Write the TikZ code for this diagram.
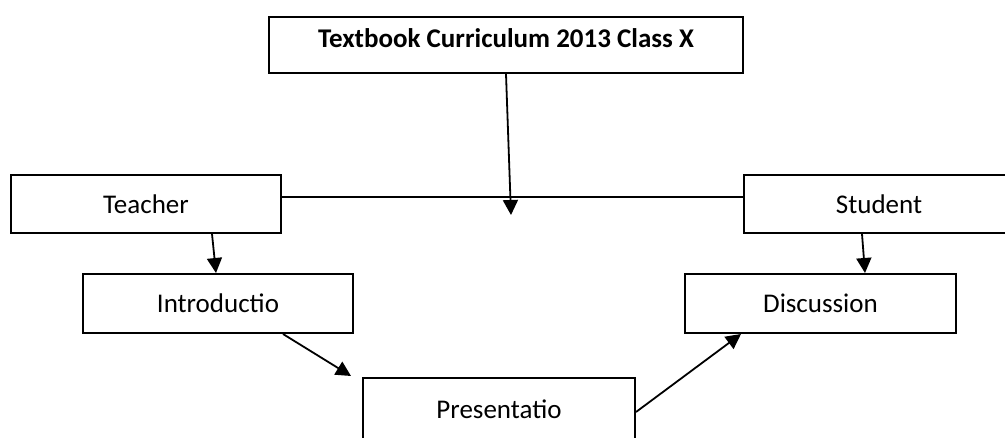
\documentclass[tikz,border=0pt]{standalone}
\usepackage{fontspec}
\setmainfont{Carlito}
\usetikzlibrary{arrows.meta}
\tikzset{
  box/.style={draw=black, line width=2pt, rectangle, inner sep=0pt, fill=white},
  conn/.style={draw=black, line width=1.8pt},
  arr/.style={conn, -{Triangle[length=15pt,width=15pt]}},
}
\begin{document}
\begin{tikzpicture}[x=1pt,y=-1pt, font=\fontsize{27}{31}\selectfont]
\useasboundingbox[fill=white] (0,0) rectangle (1005,438);
\node[box, minimum width=474pt, minimum height=56pt,
      label={[yshift=7pt]center:\textbf{Textbook Curriculum 2013 Class X}}] (title) at (506,45) {};
\node[box, minimum width=270pt, minimum height=58pt] (teacher) at (146,204) {Teacher};
\node[box, minimum width=270pt, minimum height=58pt] (student) at (879,204) {Student};
\node[box, minimum width=270pt, minimum height=59pt] (intro) at (218,303.5) {Introductio};
\node[box, minimum width=271pt, minimum height=59pt] (disc) at (820.5,303.5) {Discussion};
\node[box, minimum width=272pt, minimum height=62pt] (pres) at (499,409) {Presentatio};
\coordinate (mid) at (511,215);
\draw[conn] ([yshift=7pt]teacher.east) -- ([yshift=7pt]student.west);
\draw[arr] (title.south) -- (mid);
\draw[arr] ([xshift=66pt]teacher.south) -- ([xshift=-2pt]intro.north);
\draw[arr] ([xshift=-17pt]student.south) -- ([xshift=44.5pt]disc.north);
\draw[arr] ([xshift=65pt]intro.south) -- ([xshift=-11pt,yshift=1pt]pres.north west);
\draw[arr] ([yshift=-3pt]pres.east) -- ([xshift=57pt]disc.south west);
\end{tikzpicture}
\end{document}
